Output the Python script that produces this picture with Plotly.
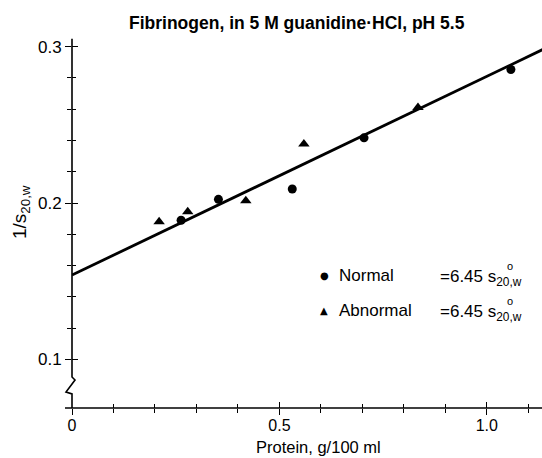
import plotly.graph_objects as go

# ---- data ----
normal_x = [0.263, 0.353, 0.531, 0.704, 1.058]
normal_y = [0.189, 0.2024, 0.209, 0.2417, 0.2854]
abnormal_x = [0.210, 0.279, 0.419, 0.559, 0.834]
abnormal_y = [0.188, 0.1945, 0.2015, 0.2377, 0.2611]
fit_x = [0.0, 1.14]
fit_y = [0.154, 0.2988]

x_major = [0, 0.5, 1.0]
x_major_text = ["0", "0.5", "1.0"]
x_minor = [0.1, 0.2, 0.3, 0.4, 0.6, 0.7, 0.8, 0.9, 1.1]
y_major = [0.1, 0.2, 0.3]
y_major_text = ["0.1", "0.2", "0.3"]
y_minor = [0.12, 0.14, 0.16, 0.18, 0.22, 0.24, 0.26, 0.28]

X_RANGE = [0.0, 1.133]
Y_RANGE = [0.069, 0.31]

W, H = 542, 458
ML, MR, MT, MB = 72, 0, 31, 50
PW, PH = W - ML - MR, H - MT - MB

def px(xp):
    return (xp - ML) / PW

def py(yp):
    return (H - MB - yp) / PH

FONT = "Liberation Sans, Arial, sans-serif"

fig = go.Figure()
fig.add_trace(go.Scatter(x=fit_x, y=fit_y, mode="lines",
                         line=dict(color="black", width=2.8),
                         showlegend=False, hoverinfo="skip"))
fig.add_trace(go.Scatter(x=normal_x, y=normal_y, mode="markers",
                         marker=dict(symbol="circle", size=9, color="black"),
                         name="Normal", showlegend=False))
fig.add_trace(go.Scatter(x=abnormal_x, y=abnormal_y, mode="markers",
                         marker=dict(symbol="triangle-up", size=10, color="black"),
                         name="Abnormal", showlegend=False))
# helper traces so the overlay axes (inside half of crossing ticks) render
fig.add_trace(go.Scatter(x=[], y=[], xaxis="x2", yaxis="y", showlegend=False))
fig.add_trace(go.Scatter(x=[], y=[], xaxis="x", yaxis="y2", showlegend=False))

fig.update_layout(
    width=W, height=H,
    margin=dict(l=ML, r=MR, t=MT, b=MB),
    paper_bgcolor="white", plot_bgcolor="white",
    xaxis=dict(range=X_RANGE, showgrid=False, zeroline=False, showline=False,
               tickmode="array", tickvals=x_major, ticktext=x_major_text,
               ticks="outside", ticklen=6, tickwidth=1.3, tickcolor="black",
               minor=dict(tickmode="array", tickvals=x_minor, ticks="outside",
                          ticklen=4, tickwidth=1.1, tickcolor="black"),
               ticklabelstandoff=-3,
               tickfont=dict(family=FONT, size=16, color="black"),
               fixedrange=True),
    xaxis2=dict(overlaying="x", matches="x", anchor="y", side="bottom",
                range=X_RANGE, showgrid=False, zeroline=False, showline=False,
                tickmode="array", tickvals=x_major,
                ticks="inside", ticklen=6, tickwidth=1.3, tickcolor="black",
                minor=dict(tickmode="array", tickvals=x_minor, ticks="inside",
                           ticklen=4, tickwidth=1.1, tickcolor="black"),
                showticklabels=False),
    yaxis=dict(range=Y_RANGE, showgrid=False, zeroline=False, showline=False,
               tickmode="array", tickvals=y_major, ticktext=y_major_text,
               ticks="outside", ticklen=6, tickwidth=1.3, tickcolor="black",
               minor=dict(tickmode="array", tickvals=y_minor, ticks="outside",
                          ticklen=4, tickwidth=1.1, tickcolor="black"),
               tickfont=dict(family=FONT, size=17, color="black"),
               fixedrange=True),
    yaxis2=dict(overlaying="y", matches="y", anchor="x", side="left",
                range=Y_RANGE, showgrid=False, zeroline=False, showline=False,
                tickmode="array", tickvals=y_major,
                ticks="inside", ticklen=6, tickwidth=1.3, tickcolor="black",
                minor=dict(tickmode="array", tickvals=y_minor, ticks="inside",
                           ticklen=4, tickwidth=1.1, tickcolor="black"),
                showticklabels=False),
)

# axis lines drawn as shapes: x-axis (slightly past 0) and y-axis with a break
fig.add_shape(type="line", xref="paper", yref="paper",
              x0=px(65), x1=1.0, y0=0, y1=0,
              line=dict(color="black", width=1.6), layer="above")
dx = 1.0 / PW
zig = (f"M 0,0.069 L 0,0.078 L {-6*dx:.5f},0.0792 L {3*dx:.5f},0.0869 "
       f"L 0,0.0888 L 0,0.305")
fig.add_shape(type="path", path=zig, xref="paper", yref="y",
              line=dict(color="black", width=1.6), layer="above")

# title
fig.add_annotation(text="Fibrinogen, in 5 M guanidine·HCl, pH 5.5",
                   x=px(297), y=py(23), xref="paper", yref="paper",
                   showarrow=False, xanchor="center", yanchor="middle",
                   font=dict(family=FONT, size=17.5, color="black", weight=600))
# x-axis title
fig.add_annotation(text="Protein, g/100 ml",
                   x=px(318), y=py(457), xref="paper", yref="paper",
                   showarrow=False, xanchor="center", yanchor="bottom",
                   borderpad=0,
                   font=dict(family=FONT, size=16.5, color="black"))
# y-axis title
fig.add_annotation(text="1/s<sub>20,w</sub>",
                   x=px(21), y=py(212), xref="paper", yref="paper",
                   showarrow=False, xanchor="center", yanchor="middle",
                   textangle=-90,
                   font=dict(family=FONT, size=19, color="black"))

# legend block
rows = [("●", "Normal", 275, 10), ("▲", "Abnormal", 310, 10)]
for sym, name, yp, sz in rows:
    fig.add_annotation(text=sym, x=px(324), y=py(yp), xref="paper", yref="paper",
                       showarrow=False, xanchor="center", yanchor="middle",
                       font=dict(family="DejaVu Sans", size=sz, color="black"))
    fig.add_annotation(text=name, x=px(337), y=py(yp), xref="paper", yref="paper",
                       showarrow=False, xanchor="left", yanchor="middle",
                       font=dict(family=FONT, size=17, color="black"))
    fig.add_annotation(text="=6.45 s<sub>20,w</sub>", x=px(438), y=py(yp + 3),
                       xref="paper", yref="paper",
                       showarrow=False, xanchor="left", yanchor="middle",
                       font=dict(family=FONT, size=17, color="black"))
    fig.add_annotation(text="o", x=px(505), y=py(yp - 9), xref="paper", yref="paper",
                       showarrow=False, xanchor="left", yanchor="middle",
                       font=dict(family=FONT, size=11, color="black"))

# remove the default page margin so the figure fills the 542x458 window exactly
fig.write_html("out.html",
               config={"displayModeBar": False},
               post_script="document.body.style.margin='0';"
                           "document.body.style.padding='0';")
